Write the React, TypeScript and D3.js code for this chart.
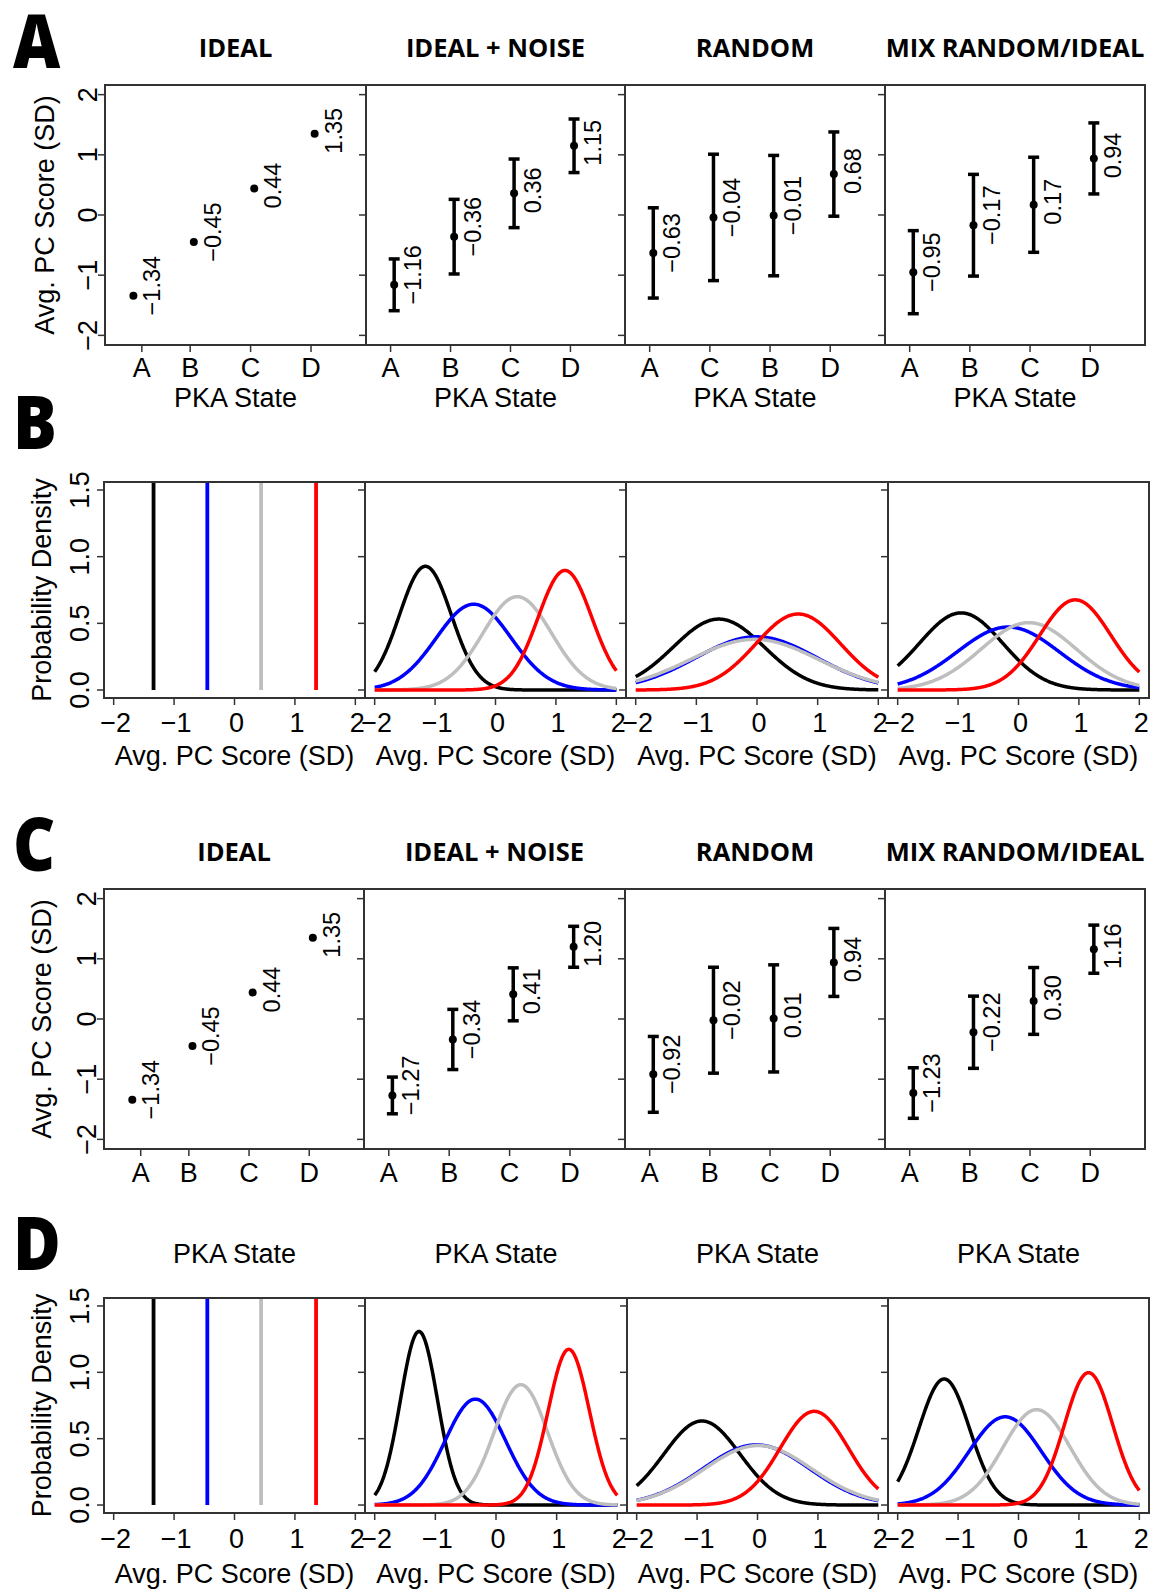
import React, { useEffect, useRef } from 'react';
import * as d3 from 'd3';

const W = 1151;
const H = 1591;

const STATES = ['A', 'B', 'C', 'D'];
const STATE_COLORS = ['#000000', '#0000ff', '#bebebe', '#ff0000'];
const PANEL_TITLES = ['IDEAL', 'IDEAL + NOISE', 'RANDOM', 'MIX RANDOM/IDEAL'];

// x positions of the state ticks (panel 1 has its first tick shifted)
const IDEAL_TICKS = [1.2, 2, 3, 4];
const TICKS = [1, 2, 3, 4];

const IDEAL_MEANS = [-1.34, -0.45, 0.44, 1.35];

// simulation 1 (rows A and B)
const NOISE_MEANS_1 = [-1.16, -0.36, 0.36, 1.15];
const NOISE_SDS_1 = [0.43, 0.62, 0.57, 0.445];
const RANDOM_ORDER_1 = ['A', 'C', 'B', 'D'];
const RANDOM_MEANS_1 = [-0.63, -0.04, -0.01, 0.68];
const RANDOM_SDS_1 = [0.75, 1.05, 1.0, 0.7];
const MIX_MEANS_1 = [-0.95, -0.17, 0.17, 0.94];
const MIX_SDS_1 = [0.69, 0.845, 0.79, 0.59];

// simulation 2 (rows C and D)
const NOISE_MEANS_2 = [-1.27, -0.34, 0.41, 1.2];
const NOISE_SDS_2 = [0.305, 0.5, 0.44, 0.34];
const RANDOM_MEANS_2 = [-0.92, -0.02, 0.01, 0.94];
const RANDOM_SDS_2 = [0.63, 0.88, 0.89, 0.565];
const MIX_MEANS_2 = [-1.23, -0.22, 0.3, 1.16];
const MIX_SDS_2 = [0.42, 0.6, 0.555, 0.4];

const SCORE_TICKS = [-2, -1, 0, 1, 2];
const DENSITY_TICKS = [0, 0.5, 1.0, 1.5];

const SIM1 = [
  { title: PANEL_TITLES[0], order: STATES, means: IDEAL_MEANS, sds: null, ticks: IDEAL_TICKS },
  { title: PANEL_TITLES[1], order: STATES, means: NOISE_MEANS_1, sds: NOISE_SDS_1, ticks: TICKS },
  { title: PANEL_TITLES[2], order: RANDOM_ORDER_1, means: RANDOM_MEANS_1, sds: RANDOM_SDS_1, ticks: TICKS },
  { title: PANEL_TITLES[3], order: STATES, means: MIX_MEANS_1, sds: MIX_SDS_1, ticks: TICKS },
];
const SIM2 = [
  { title: PANEL_TITLES[0], order: STATES, means: IDEAL_MEANS, sds: null, ticks: IDEAL_TICKS },
  { title: PANEL_TITLES[1], order: STATES, means: NOISE_MEANS_2, sds: NOISE_SDS_2, ticks: TICKS },
  { title: PANEL_TITLES[2], order: STATES, means: RANDOM_MEANS_2, sds: RANDOM_SDS_2, ticks: TICKS },
  { title: PANEL_TITLES[3], order: STATES, means: MIX_MEANS_2, sds: MIX_SDS_2, ticks: TICKS },
];

const FONT = '"Liberation Sans", Arial, Helvetica, sans-serif';
const BOLD_FONT = '"Open Sans", "Liberation Sans", sans-serif';
const FRAME = '#333';
const TICK_SIZE = 27;

const minus = (s: string) => s.replace('-', '\u2212');
const fmtValue = (v: number) => minus(v.toFixed(2));

// normal density, the curves are dnorm(mean, sd) of each state
const dnorm = (x: number, m: number, s: number) =>
  Math.exp(-0.5 * ((x - m) / s) ** 2) / (s * Math.sqrt(2 * Math.PI));

type Row = { top: number; bottom: number; lefts: number[]; right: number };

const ROW_A: Row = { top: 85, bottom: 345, lefts: [105, 366, 625, 885], right: 1145 };
const ROW_B: Row = { top: 482, bottom: 698, lefts: [104, 365, 626, 888], right: 1149 };
const ROW_C: Row = { top: 889, bottom: 1149, lefts: [104, 364, 625, 885], right: 1145 };
const ROW_D: Row = { top: 1298, bottom: 1513, lefts: [104, 365, 627, 888], right: 1149 };

const panelEdges = (row: Row, i: number) => [row.lefts[i], i < 3 ? row.lefts[i + 1] : row.right];

const rotText = (g: any, x: number, y: number, text: string, size: number, anchor = 'middle') =>
  g
    .append('text')
    .attr('x', x)
    .attr('y', y)
    .attr('transform', `rotate(-90,${x},${y})`)
    .attr('text-anchor', anchor)
    .style('font-family', FONT)
    .style('font-size', `${size}px`)
    .style('fill', '#000')
    .text(text);

const drawLetter = (svg: any, letter: string, y: number) => {
  svg
    .append('text')
    .attr('transform', `translate(13,${y}) scale(0.88,1)`)
    .style('font-family', BOLD_FONT)
    .style('font-weight', 800)
    .style('font-size', '74px')
    .text(letter);
};

const drawFrame = (g: any, row: Row, x0: number, x1: number) => {
  g.append('rect')
    .attr('x', x0)
    .attr('y', row.top)
    .attr('width', x1 - x0)
    .attr('height', row.bottom - row.top)
    .attr('fill', 'none')
    .attr('stroke', FRAME)
    .attr('stroke-width', 2);
};

const drawDotRow = (svg: any, row: Row, panels: any[], o: any) => {
  drawLetter(svg, o.letter, o.letterY);

  panels.forEach((p, i) => {
    const [x0, x1] = panelEdges(row, i);
    const x = d3.scaleLinear().domain([0.59, 4.91]).range([x0, x1]);
    const y = d3.scaleLinear().domain([-2.16, 2.16]).range([row.bottom, row.top]);
    const g = svg.append('g');

    // panel title
    g.append('text')
      .attr('x', (x0 + x1) / 2)
      .attr('y', o.titleY)
      .attr('text-anchor', 'middle')
      .style('font-family', BOLD_FONT)
      .style('font-weight', 700)
      .style('font-size', '25.5px')
      .text(p.title);

    drawFrame(g, row, x0, x1);

    // y ticks
    g.selectAll('.ytick')
      .data(SCORE_TICKS)
      .enter()
      .append('line')
      .attr('x1', x0)
      .attr('x2', x0 - 7)
      .attr('y1', (d) => y(d))
      .attr('y2', (d) => y(d))
      .attr('stroke', FRAME)
      .attr('stroke-width', 1.5);

    if (i === 0) {
      SCORE_TICKS.forEach((t) => rotText(g, o.yTickX, y(t), minus(String(t)), TICK_SIZE));
      rotText(g, o.yTitleX, (row.top + row.bottom) / 2, 'Avg. PC Score (SD)', 27);
    }

    // x ticks
    g.selectAll('.xtick')
      .data(p.ticks)
      .enter()
      .append('line')
      .attr('x1', (d) => x(d))
      .attr('x2', (d) => x(d))
      .attr('y1', row.bottom)
      .attr('y2', row.bottom + 7)
      .attr('stroke', FRAME)
      .attr('stroke-width', 1.5);

    g.selectAll('.xlab')
      .data(p.order)
      .enter()
      .append('text')
      .attr('x', (d, j) => x(p.ticks[j]))
      .attr('y', o.xTickY)
      .attr('text-anchor', 'middle')
      .style('font-family', FONT)
      .style('font-size', `${TICK_SIZE}px`)
      .text((d) => d);

    if (o.xTitle) {
      g.append('text')
        .attr('x', (x0 + x1) / 2)
        .attr('y', o.xTitleY)
        .attr('text-anchor', 'middle')
        .style('font-family', FONT)
        .style('font-size', '27px')
        .text(o.xTitle);
    }

    const px = (j: number) => x(j + 1 + 0.06);

    // error bars (+/- 1 SD)
    if (p.sds) {
      p.means.forEach((m: number, j: number) => {
        const s = p.sds[j];
        g.append('line')
          .attr('x1', px(j))
          .attr('x2', px(j))
          .attr('y1', y(m - s))
          .attr('y2', y(m + s))
          .attr('stroke', '#000')
          .attr('stroke-width', 3.5);
        [m - s, m + s].forEach((v) =>
          g
            .append('line')
            .attr('x1', px(j) - 5.5)
            .attr('x2', px(j) + 5.5)
            .attr('y1', y(v))
            .attr('y2', y(v))
            .attr('stroke', '#000')
            .attr('stroke-width', 3.5)
        );
      });
    }

    g.selectAll('.pt')
      .data(p.means)
      .enter()
      .append('circle')
      .attr('cx', (d, j) => px(j))
      .attr('cy', (d) => y(d))
      .attr('r', 4)
      .attr('fill', '#000');

    p.means.forEach((m: number, j: number) =>
      rotText(g, px(j) + 27, y(m) - (m < 0 ? 10 : 3), fmtValue(m), 23.5)
    );
  });
};

const drawDensityRow = (svg: any, row: Row, panels: any[], o: any) => {
  drawLetter(svg, o.letter, o.letterY);

  panels.forEach((p, i) => {
    const [x0, x1] = panelEdges(row, i);
    const x = d3.scaleLinear().domain([-2.16, 2.16]).range([x0, x1]);
    const y = d3.scaleLinear().domain([-0.06, 1.56]).range([row.bottom, row.top]);
    const g = svg.append('g');

    if (o.title) {
      g.append('text')
        .attr('x', (x0 + x1) / 2)
        .attr('y', o.titleY)
        .attr('text-anchor', 'middle')
        .style('font-family', FONT)
        .style('font-size', '27px')
        .text(o.title);
    }

    const curves = g.append('g');
    STATES.forEach((s, k) => {
      const j = p.order.indexOf(s);
      const m = p.means[j];
      if (!p.sds) {
        curves
          .append('line')
          .attr('x1', x(m))
          .attr('x2', x(m))
          .attr('y1', y(0))
          .attr('y2', row.top)
          .attr('stroke', STATE_COLORS[k])
          .attr('stroke-width', 3.8);
        return;
      }
      const sd = p.sds[j];
      const pts = d3.range(-2, 2.0001, 0.01).map((v) => [v, dnorm(v, m, sd)]);
      const line = d3
        .line()
        .x((d) => x(d[0]))
        .y((d) => y(d[1]));
      curves
        .append('path')
        .datum(pts)
        .attr('d', line)
        .attr('fill', 'none')
        .attr('stroke', STATE_COLORS[k])
        .attr('stroke-width', 3.5)
        .attr('stroke-linejoin', 'round');
    });

    drawFrame(g, row, x0, x1);

    g.selectAll('.ytick')
      .data(DENSITY_TICKS)
      .enter()
      .append('line')
      .attr('x1', x0)
      .attr('x2', x0 - 7)
      .attr('y1', (d) => y(d))
      .attr('y2', (d) => y(d))
      .attr('stroke', FRAME)
      .attr('stroke-width', 1.5);

    if (i === 0) {
      DENSITY_TICKS.forEach((t) => rotText(g, o.yTickX, y(t), d3.format('.1f')(t), TICK_SIZE));
      rotText(g, o.yTitleX, (row.top + row.bottom) / 2, 'Probability Density', 27);
    }

    g.selectAll('.xtick')
      .data(SCORE_TICKS)
      .enter()
      .append('line')
      .attr('x1', (d) => x(d))
      .attr('x2', (d) => x(d))
      .attr('y1', row.bottom)
      .attr('y2', row.bottom + 7)
      .attr('stroke', FRAME)
      .attr('stroke-width', 1.5);

    g.selectAll('.xlab')
      .data(SCORE_TICKS)
      .enter()
      .append('text')
      .attr('x', (d) => x(d) + 2)
      .attr('y', o.xTickY)
      .attr('text-anchor', 'middle')
      .style('font-family', FONT)
      .style('font-size', `${TICK_SIZE}px`)
      .text((d) => minus(String(d)));

    g.append('text')
      .attr('x', (x0 + x1) / 2)
      .attr('y', o.xTitleY)
      .attr('text-anchor', 'middle')
      .style('font-family', FONT)
      .style('font-size', '27px')
      .text('Avg. PC Score (SD)');
  });
};

export default function App() {
  const ref = useRef<SVGSVGElement>(null);

  useEffect(() => {
    const svg = d3.select(ref.current);
    svg.selectAll('*').remove();
    svg.append('rect').attr('width', W).attr('height', H).attr('fill', '#fff');

    drawDotRow(svg, ROW_A, SIM1, {
      letter: 'A', letterY: 68, titleY: 57, yTickX: 97, yTitleX: 54,
      xTickY: 377, xTitle: 'PKA State', xTitleY: 407,
    });
    drawDensityRow(svg, ROW_B, SIM1, {
      letter: 'B', letterY: 449, yTickX: 89, yTitleX: 51, xTickY: 732, xTitleY: 765,
    });
    drawDotRow(svg, ROW_C, SIM2, {
      letter: 'C', letterY: 871, titleY: 861, yTickX: 96, yTitleX: 51, xTickY: 1182,
    });
    drawDensityRow(svg, ROW_D, SIM2, {
      letter: 'D', letterY: 1270, title: 'PKA State', titleY: 1263,
      yTickX: 89, yTitleX: 51, xTickY: 1548, xTitleY: 1583,
    });
  }, []);

  return (
    <svg
      ref={ref}
      width={W}
      height={H}
      style={{ position: 'absolute', left: 0, top: 0 }}
    />
  );
}
